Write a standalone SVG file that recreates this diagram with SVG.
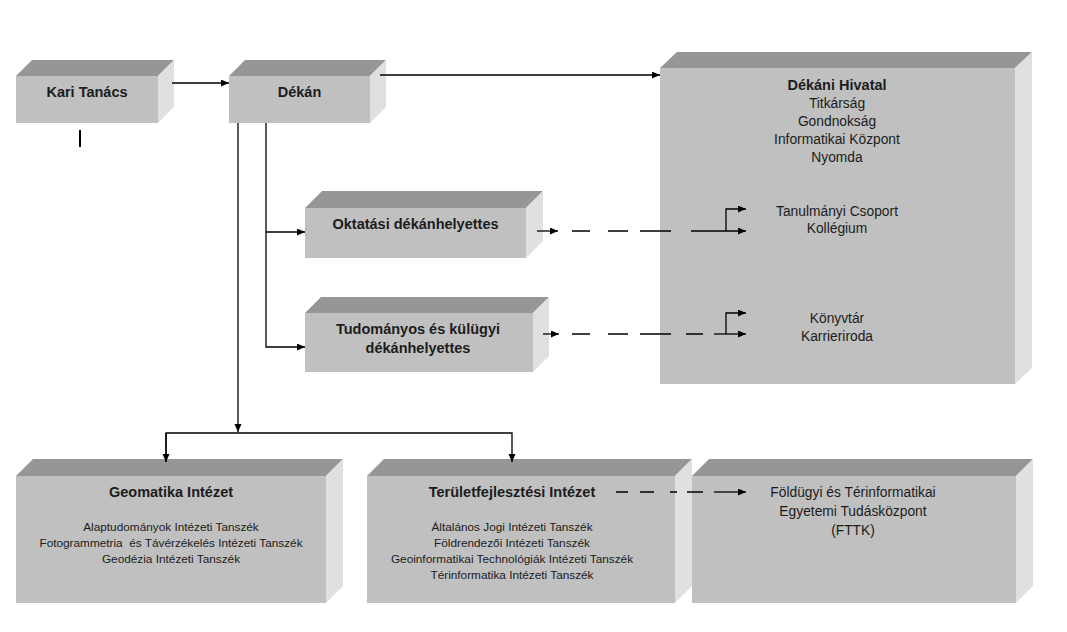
<svg xmlns="http://www.w3.org/2000/svg" width="1067" height="632" viewBox="0 0 1067 632">
<style>
.front{fill:#c0c0c0}
.top{fill:#969696}
.side{fill:#e0e0e0}
text{font-family:"Liberation Sans",Arial,sans-serif;fill:#1c1c1c;text-anchor:middle}
.t{font-weight:bold;font-size:14.5px}
.n{font-size:13.8px}
.s{font-size:11.8px;white-space:pre}
.c{stroke:#000;stroke-width:1.3;fill:none}
</style>
<defs>
<marker id="ah" markerUnits="userSpaceOnUse" markerWidth="9" markerHeight="8" refX="8" refY="3.5" orient="auto">
<path d="M0,0 L8,3.5 L0,7 z" fill="#000"/>
</marker>
</defs>
<rect width="1067" height="632" fill="#fff"/>

<g id="kari-tanacs">
<rect class="front" x="16" y="76" width="142" height="47"/>
<polygon class="top" points="16,76 32,60 174,60 158,76"/>
<polygon class="side" points="158,76 174,60 174,107 158,123"/>
<text class="t" x="87" y="97">Kari Tanács</text>
</g>

<g id="dekan">
<rect class="front" x="229" y="76" width="141" height="47"/>
<polygon class="top" points="229,76 245,60 386,60 370,76"/>
<polygon class="side" points="370,76 386,60 386,107 370,123"/>
<text class="t" x="299.5" y="97">Dékán</text>
</g>

<g id="dekani-hivatal">
<rect class="front" x="660" y="68" width="355" height="316"/>
<polygon class="top" points="660,68 677,52 1032,52 1015,68"/>
<polygon class="side" points="1015,68 1032,52 1032,368 1015,384"/>
<text class="t" x="837" y="90">Dékáni Hivatal</text>
<text class="n" x="837" y="108">Titkárság</text>
<text class="n" x="837" y="126">Gondnokság</text>
<text class="n" x="837" y="144">Informatikai Központ</text>
<text class="n" x="837" y="162">Nyomda</text>
<text class="n" x="837" y="216">Tanulmányi Csoport</text>
<text class="n" x="837" y="233">Kollégium</text>
<text class="n" x="837" y="323">Könyvtár</text>
<text class="n" x="837" y="341">Karrieriroda</text>
</g>

<g id="oktatasi">
<rect class="front" x="305" y="208" width="221" height="50"/>
<polygon class="top" points="305,208 322,191 543,191 526,208"/>
<polygon class="side" points="526,208 543,191 543,241 526,258"/>
<text class="t" x="415.5" y="229">Oktatási dékánhelyettes</text>
</g>

<g id="tudomanyos">
<rect class="front" x="305" y="313" width="228" height="59"/>
<polygon class="top" points="305,313 321,297 549,297 533,313"/>
<polygon class="side" points="533,313 549,297 549,356 533,372"/>
<text class="t" x="418" y="334">Tudományos és külügyi</text>
<text class="t" x="418" y="353">dékánhelyettes</text>
</g>

<g id="geomatika">
<rect class="front" x="16" y="476" width="310" height="127"/>
<polygon class="top" points="16,476 33,459 343,459 326,476"/>
<polygon class="side" points="326,476 343,459 343,586 326,603"/>
<text class="t" x="171" y="497">Geomatika Intézet</text>
<text class="s" x="171" y="531">Alaptudományok Intézeti Tanszék</text>
<text class="s" x="171" y="547">Fotogrammetria  és Távérzékelés Intézeti Tanszék</text>
<text class="s" x="171" y="563">Geodézia Intézeti Tanszék</text>
</g>

<g id="teruletfejlesztesi">
<rect class="front" x="367" y="476" width="308" height="127"/>
<polygon class="top" points="367,476 384,459 692,459 675,476"/>
<polygon class="side" points="675,476 692,459 692,586 675,603"/>
<text class="t" x="512" y="497">Területfejlesztési Intézet</text>
<text class="s" x="512" y="531">Általános Jogi Intézeti Tanszék</text>
<text class="s" x="512" y="547">Földrendezői Intézeti Tanszék</text>
<text class="s" x="512" y="563">Geoinformatikai Technológiák Intézeti Tanszék</text>
<text class="s" x="512" y="579">Térinformatika Intézeti Tanszék</text>
</g>

<g id="fttk">
<rect class="front" x="692" y="476" width="324" height="127"/>
<polygon class="top" points="692,476 709,459 1033,459 1016,476"/>
<polygon class="side" points="1016,476 1033,459 1033,586 1016,603"/>
<text class="n" x="853" y="497">Földügyi és Térinformatikai</text>
<text class="n" x="853" y="516">Egyetemi Tudásközpont</text>
<text class="n" x="853" y="535">(FTTK)</text>
</g>

<g id="connectors">
<line class="c" x1="172" y1="83" x2="229" y2="83" marker-end="url(#ah)"/>
<line class="c" x1="380" y1="75" x2="660" y2="75" marker-end="url(#ah)"/>
<line x1="80" y1="130" x2="80" y2="147" stroke="#000" stroke-width="2"/>

<polyline class="c" points="266,123 266,347 305,347" marker-end="url(#ah)"/>
<line class="c" x1="266" y1="232" x2="305" y2="232" marker-end="url(#ah)"/>

<line class="c" x1="238" y1="123" x2="238" y2="432" marker-end="url(#ah)"/>
<polyline class="c" points="166,462 166,433 512,433 512,462" marker-end="url(#ah)"/>
<line class="c" x1="166" y1="433" x2="166" y2="462" marker-end="url(#ah)"/>

<line class="c" x1="537" y1="231" x2="558" y2="231" marker-end="url(#ah)"/>
<path class="c" d="M572,231 H590 M608,231 H628 M640,231 H671"/>
<line class="c" x1="691" y1="231" x2="746" y2="231" marker-end="url(#ah)"/>
<polyline class="c" points="726,231 726,209 746,209" marker-end="url(#ah)"/>

<line class="c" x1="543" y1="334" x2="559" y2="334" marker-end="url(#ah)"/>
<path class="c" d="M572,334 H590 M608,334 H628 M640,334 H671 M686,334 H703"/>
<line class="c" x1="714" y1="334" x2="746" y2="334" marker-end="url(#ah)"/>
<polyline class="c" points="726,334 726,313 746,313" marker-end="url(#ah)"/>

<path class="c" d="M616,492 H628 M640,492 H654 M670,492 H677 M687,492 H703"/>
<line class="c" x1="714" y1="492" x2="746" y2="492" marker-end="url(#ah)"/>
</g>
</svg>
